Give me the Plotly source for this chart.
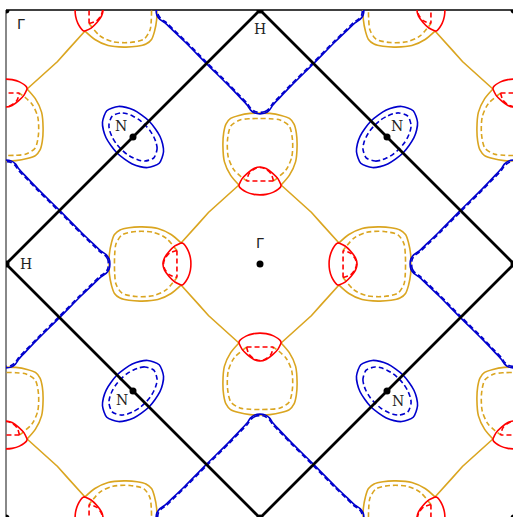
import plotly.graph_objects as go

# ---------------- high-symmetry points (units of 2*pi/a) ----------------
gamma_x = [0.0, -1.0, 1.0, -1.0, 1.0]
gamma_y = [0.0, 1.0, 1.0, -1.0, -1.0]
h_x = [0.0, 1.0, 0.0, -1.0]
h_y = [1.0, 0.0, -1.0, 0.0]
n_x = [-0.5, 0.5, -0.5, 0.5]
n_y = [0.5, 0.5, -0.5, -0.5]

# Brillouin-zone boundary H-H-H-H
bz_x = [0.0, 1.0, 0.0, -1.0, 0.0]
bz_y = [1.0, 0.0, -1.0, 0.0, 1.0]

# ---------------- contours ----------------
# local coordinates: u = distance from centre along symmetry line, v = transverse
# orange pocket on Gamma-H line (half contour, v >= 0)
pocket_solid_u = [0.311, 0.350, 0.402, 0.465, 0.516, 0.551, 0.573, 0.585, 0.593, 0.594]
pocket_solid_v = [0.083, 0.116, 0.140, 0.146, 0.143, 0.134, 0.116, 0.083, 0.039, 0.0]
pocket_dash_u = [0.327, 0.370, 0.421, 0.488, 0.543, 0.567, 0.572, 0.573]
pocket_dash_v = [0.053, 0.102, 0.125, 0.128, 0.115, 0.079, 0.039, 0.0]

# red lens on Gamma-H line
lens_outer_u = [0.311, 0.335, 0.358, 0.376, 0.382]
lens_outer_v = [0.083, 0.071, 0.049, 0.024, 0.0]
lens_inner_u = [0.311, 0.303, 0.283, 0.274, 0.272]
lens_inner_v = [0.083, 0.081, 0.053, 0.024, 0.0]
lens_dash_u = [0.327, 0.356, 0.374, 0.380]
lens_dash_v = [0.053, 0.043, 0.022, 0.0]

# Gamma-centred orange sheet between two lenses (upper-left quadrant)
gsheet_x = [-0.083, -0.120, -0.159, -0.203, -0.242, -0.278, -0.311]
gsheet_y = [0.311, 0.278, 0.242, 0.203, 0.159, 0.120, 0.083]

# blue H-centred sheet, one quarter (u toward Gamma, v transverse)
hsheet_u = [0.409, 0.406, 0.394, 0.374, 0.346, 0.295, 0.211, 0.126, 0.077, 0.051, 0.037, 0.020, 0.0]
hsheet_v = [0.0, 0.020, 0.037, 0.051, 0.077, 0.126, 0.211, 0.295, 0.346, 0.374, 0.394, 0.406, 0.409]
hsheet_dash_u = [0.403, 0.400, 0.388, 0.368, 0.341, 0.291, 0.208, 0.124, 0.076, 0.050, 0.036, 0.020, 0.0]
hsheet_dash_v = [0.0, 0.020, 0.036, 0.050, 0.076, 0.124, 0.208, 0.291, 0.341, 0.368, 0.388, 0.400, 0.403]

# blue N pockets (half contour, u along N->Gamma)
npocket_u = [0.146, 0.126, 0.102, 0.073, 0.038, 0.0, -0.038, -0.073, -0.102, -0.126, -0.146]
npocket_v = [0.0, 0.044, 0.063, 0.077, 0.085, 0.089, 0.085, 0.077, 0.063, 0.044, 0.0]
npocket_dash_u = [0.116, 0.100, 0.081, 0.058, 0.030, 0.0, -0.030, -0.058, -0.081, -0.100, -0.116]
npocket_dash_v = [0.0, 0.034, 0.048, 0.058, 0.065, 0.067, 0.065, 0.058, 0.048, 0.034, 0.0]

# labels
gamma_label = "Γ"
h_label = "H"
n_label = "N"

ORANGE = "#DAA520"
RED = "#FF0000"
BLUE = "#0000CD"


def place(us, vs, cx, cy, dx, dy):
    xs = [cx + u * dx - v * dy for u, v in zip(us, vs)]
    ys = [cy + u * dy + v * dx for u, v in zip(us, vs)]
    return xs, ys


def mirror_full(us, vs):
    # half contour (starting at a corner, ending on axis) -> full contour
    U = list(us) + list(us[::-1][1:])
    V = [-v for v in vs] + list(vs[::-1][1:])
    return U, V


def closed_ellipse(us, vs):
    U = list(us) + list(us[::-1][1:])
    V = list(vs) + [-v for v in vs[::-1][1:]]
    return U, V


class Acc:
    def __init__(self):
        self.x, self.y = [], []

    def add(self, xs, ys):
        self.x += list(xs) + [None]
        self.y += list(ys) + [None]


dirs = [(1, 0), (0, 1), (-1, 0), (0, -1)]

orange_solid, orange_dash, orange_sheet = Acc(), Acc(), Acc()
red_solid, red_dash = Acc(), Acc()
blue_solid, blue_dash = Acc(), Acc()

for gx, gy in zip(gamma_x, gamma_y):
    for dx, dy in dirs:
        orange_solid.add(*place(*mirror_full(pocket_solid_u, pocket_solid_v), gx, gy, dx, dy))
        orange_dash.add(*place(*mirror_full(pocket_dash_u, pocket_dash_v), gx, gy, dx, dy))
        red_solid.add(*place(*mirror_full(lens_outer_u, lens_outer_v), gx, gy, dx, dy))
        red_solid.add(*place(*mirror_full(lens_inner_u, lens_inner_v), gx, gy, dx, dy))
        red_dash.add(*place(*mirror_full(lens_dash_u, lens_dash_v), gx, gy, dx, dy))
        red_dash.add(*place([lens_dash_u[0], lens_dash_u[0]], [-lens_dash_v[0], lens_dash_v[0]], gx, gy, dx, dy))
    for sx in (1, -1):
        for sy in (1, -1):
            orange_sheet.add([gx + sx * x for x in gsheet_x], [gy + sy * y for y in gsheet_y])

for hx, hy in zip(h_x, h_y):
    d0 = (-hx, -hy)
    rots = [d0, (-d0[1], d0[0]), (-d0[0], -d0[1]), (d0[1], -d0[0])]
    for us, vs, acc in ((hsheet_u, hsheet_v, blue_solid), (hsheet_dash_u, hsheet_dash_v, blue_dash)):
        X, Y = [], []
        for dx, dy in rots:
            xs, ys = place(us, vs, hx, hy, dx, dy)
            X += xs[:-1]
            Y += ys[:-1]
        X.append(X[0])
        Y.append(Y[0])
        acc.add(X, Y)

for nx, ny in zip(n_x, n_y):
    L = (nx * nx + ny * ny) ** 0.5
    dx, dy = -nx / L, -ny / L
    blue_solid.add(*place(*closed_ellipse(npocket_u, npocket_v), nx, ny, dx, dy))
    blue_dash.add(*place(*closed_ellipse(npocket_dash_u, npocket_dash_v), nx, ny, dx, dy))

fig = go.Figure()
LW = 1.6
DASH = "5px,3px"


def line_trace(acc, color, dash, shape="spline"):
    line = dict(color=color, width=LW, dash=dash, shape=shape)
    if shape == "spline":
        line["smoothing"] = 0.8
    return go.Scatter(x=acc.x, y=acc.y, mode="lines", hoverinfo="skip", line=line)


fig.add_trace(line_trace(orange_sheet, ORANGE, "solid", "linear"))
fig.add_trace(line_trace(orange_solid, ORANGE, "solid"))
fig.add_trace(line_trace(orange_dash, ORANGE, DASH))
fig.add_trace(line_trace(red_solid, RED, "solid"))
fig.add_trace(line_trace(red_dash, RED, DASH))
fig.add_trace(line_trace(blue_solid, BLUE, "solid"))
fig.add_trace(line_trace(blue_dash, BLUE, DASH))

fig.add_trace(go.Scatter(x=bz_x, y=bz_y, mode="lines", hoverinfo="skip",
                         line=dict(color="black", width=2.8)))
fig.add_trace(go.Scatter(x=gamma_x + h_x + n_x, y=gamma_y + h_y + n_y, mode="markers",
                         hoverinfo="skip", marker=dict(color="black", size=7)))

ann = []
SERIF = "DejaVu Serif"
SANS = "DejaVu Sans"


def label(x, y, text, xs, ys, fam):
    ann.append(dict(x=x, y=y, text=text, showarrow=False, xshift=xs, yshift=ys,
                    font=dict(family=fam, size=14, color="#222222")))


label(0, 0, gamma_label, 0, 21, SANS)
label(-1, 1, gamma_label, 15, -14, SANS)
label(1, 1, gamma_label, -15, -14, SANS)
label(-1, -1, gamma_label, 15, 16, SANS)
label(1, -1, gamma_label, -15, 16, SANS)
label(0, 1, h_label, 0, -19, SERIF)
label(0, -1, h_label, 0, 21, SERIF)
label(-1, 0, h_label, 20, 0, SERIF)
label(1, 0, h_label, -20, 0, SERIF)
label(-0.5, 0.5, n_label, -12, 11, SERIF)
label(0.5, 0.5, n_label, 10, 11, SERIF)
label(-0.5, -0.5, n_label, -11, -9, SERIF)
label(0.5, -0.5, n_label, 11, -10, SERIF)

W, H = 513, 517
ML, MT = 6, 10
PX = 254.0
pw, ph = W - ML, H - MT

fig.update_layout(
    width=W, height=H, autosize=False,
    margin=dict(l=ML, r=0, t=MT, b=0, pad=0),
    paper_bgcolor="white", plot_bgcolor="white",
    showlegend=False,
    xaxis=dict(range=[-1, -1 + pw / PX], visible=False, fixedrange=True),
    yaxis=dict(range=[1 - ph / PX, 1], visible=False, fixedrange=True),
    annotations=ann,
    shapes=[
        dict(type="line", xref="paper", yref="paper", x0=0, x1=0, y0=0, y1=1,
             line=dict(color="#888888", width=2), layer="below"),
        dict(type="line", xref="paper", yref="paper", x0=0, x1=1, y0=1, y1=1,
             line=dict(color="black", width=1.5), layer="below"),
    ],
)

fig.write_html("out.html", config={"displayModeBar": False, "staticPlot": True},
               post_script="document.body.style.margin='0';document.body.style.overflow='hidden';")
